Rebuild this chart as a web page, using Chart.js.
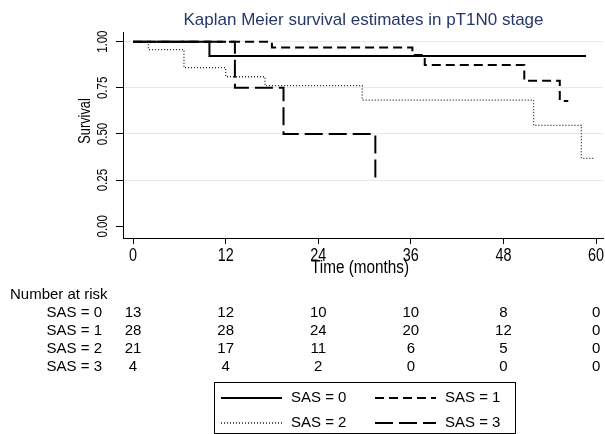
<!DOCTYPE html>
<html>
<head>
<meta charset="utf-8">
<script src="https://cdn.jsdelivr.net/npm/chart.js@4.4.1/dist/chart.umd.min.js"></script>
<style>
  html, body { margin: 0; padding: 0; background: #fff; }
  #km { display: block; }
</style>
</head>
<body>
<canvas id="km" width="605" height="434"></canvas>
<script>
// Kaplan-Meier curves (months, survival)
const groupLabels = ['SAS = 0', 'SAS = 1', 'SAS = 2', 'SAS = 3'];

const sas0Time = [0, 9.9, 58.7];
const sas0Surv = [1, 0.923, 0.923];

const sas1Time = [0, 18.0, 36.2, 37.8, 50.7, 55.3, 56.4];
const sas1Surv = [1, 0.968, 0.928, 0.874, 0.789, 0.679, 0.679];

const sas2Time = [0, 2.0, 6.6, 12.0, 17.1, 29.7, 51.9, 58.1, 59.8];
const sas2Surv = [1, 0.957, 0.859, 0.81, 0.762, 0.684, 0.547, 0.368, 0.368];

const sas3Time = [0, 13.2, 19.5, 31.4];
const sas3Surv = [1, 0.75, 0.5, 0.25];

// number at risk table
const riskTimes = [0, 12, 24, 36, 48, 60];
const riskSas0 = [13, 12, 10, 10, 8, 0];
const riskSas1 = [28, 28, 24, 20, 12, 0];
const riskSas2 = [21, 17, 11, 6, 5, 0];
const riskSas3 = [4, 4, 2, 0, 0, 0];

const xTicks = [0, 12, 24, 36, 48, 60];
const yTicks = [0, 0.25, 0.5, 0.75, 1];
const yTickLabels = ['0.00', '0.25', '0.50', '0.75', '1.00'];

const FONT = "'Liberation Sans', Arial, sans-serif";

function toPoints(t, s) {
    return t.map((v, i) => ({ x: v, y: s[i] }));
}

const lineStyles = [
    { dash: [], width: 2, color: '#000' },
    { dash: [9, 5], width: 2, color: '#000' },
    { dash: [1, 2], width: 1.3, color: '#222' },
    { dash: [18, 6], width: 2, color: '#000' }
];

const allTimes = [sas0Time, sas1Time, sas2Time, sas3Time];
const allSurv = [sas0Surv, sas1Surv, sas2Surv, sas3Surv];
const allRisk = [riskSas0, riskSas1, riskSas2, riskSas3];

const datasets = groupLabels.map((lbl, i) => ({
    label: lbl,
    data: toPoints(allTimes[i], allSurv[i]),
    stepped: true,
    fill: false,
    borderColor: lineStyles[i].color,
    borderWidth: lineStyles[i].width,
    borderDash: lineStyles[i].dash,
    pointRadius: 0
}));

// text squeezed sideways, to mimic the narrow face of the original
function squeezed(c, txt, x, y, size, sx, rot, align, base) {
    c.save();
    c.translate(x, y);
    if (rot) c.rotate(rot);
    c.scale(sx, 1);
    c.font = size + 'px ' + FONT;
    c.textAlign = align || 'center';
    c.textBaseline = base || 'middle';
    c.fillText(txt, 0, 0);
    c.restore();
}

// title, axis labels, risk table and legend box
const extras = {
    id: 'extras',
    afterDraw(chart) {
        const c = chart.ctx;
        const xs = chart.scales.x;
        const ys = chart.scales.y;
        c.save();
        c.fillStyle = '#26386a';
        squeezed(c, 'Kaplan Meier survival estimates in pT1N0 stage', 363.5, 25, 17, 1, 0, 'center', 'alphabetic');

        c.fillStyle = '#000';
        // y tick labels, rotated
        yTicks.forEach((v, i) => {
            squeezed(c, yTickLabels[i], 103, ys.getPixelForValue(v), 14, 0.82, -Math.PI / 2);
        });
        squeezed(c, 'Survival', 86, 121, 16, 0.8, -Math.PI / 2);

        // x tick labels and title
        xTicks.forEach((v) => {
            squeezed(c, String(v), xs.getPixelForValue(v), 261, 18, 0.8, 0, 'center', 'alphabetic');
        });
        squeezed(c, 'Time (months)', 360, 273, 18, 0.85, 0, 'center', 'alphabetic');

        // number at risk
        c.font = '15px ' + FONT;
        c.textBaseline = 'middle';
        c.textAlign = 'left';
        c.fillText('Number at risk', 10, 295);
        const rowY = [313, 331, 349, 367];
        allRisk.forEach((row, r) => {
            c.textAlign = 'right';
            c.fillText(groupLabels[r], 102, rowY[r]);
            c.textAlign = 'center';
            row.forEach((n, k) => {
                c.fillText(String(n), xs.getPixelForValue(riskTimes[k]), rowY[r]);
            });
        });

        // legend box
        c.strokeStyle = '#000';
        c.lineWidth = 1;
        c.strokeRect(214.5, 382.5, 301, 51);
        const cols = [221, 375];
        const rows = [398, 423];
        chart.data.datasets.forEach((ds, i) => {
            const x0 = cols[i % 2];
            const y0 = rows[Math.floor(i / 2)];
            c.beginPath();
            c.setLineDash(ds.borderDash);
            c.lineWidth = ds.borderWidth;
            c.strokeStyle = ds.borderColor;
            c.moveTo(x0, y0);
            c.lineTo(x0 + 61, y0);
            c.stroke();
            c.setLineDash([]);
            c.textAlign = 'left';
            c.font = '15px ' + FONT;
            c.fillText(ds.label, x0 + 70, y0);
        });
        c.restore();
    }
};

const chart = new Chart(document.getElementById('km'), {
    type: 'line',
    data: { datasets: datasets },
    plugins: [extras],
    options: {
        responsive: false,
        animation: false,
        devicePixelRatio: 1,
        layout: { padding: { left: 0, right: 2, top: 32, bottom: 434 - 238 - 42 } },
        plugins: {
            legend: { display: false },
            tooltip: { enabled: false },
            title: { display: false }
        },
        scales: {
            x: {
                type: 'linear',
                min: -1.3,
                max: 60.9,
                afterBuildTicks: (s) => { s.ticks = xTicks.map(v => ({ value: v })); },
                afterFit: (s) => { s.height = 42; },
                grid: { drawOnChartArea: false, tickColor: '#000', tickLength: 6 },
                border: { display: true, color: '#000', width: 1 },
                ticks: { display: false }
            },
            y: {
                type: 'linear',
                min: -0.0634,
                max: 1.0525,
                afterBuildTicks: (s) => { s.ticks = yTicks.map(v => ({ value: v })); },
                afterFit: (s) => { s.width = 123; },
                grid: {
                    color: (ctx) => (ctx.tick && ctx.tick.value === 0 ? 'rgba(0,0,0,0)' : '#e2ebee'),
                    tickColor: '#000',
                    tickLength: 7
                },
                border: { display: true, color: '#000', width: 1 },
                ticks: { display: false }
            }
        }
    }
});
</script>
</body>
</html>
